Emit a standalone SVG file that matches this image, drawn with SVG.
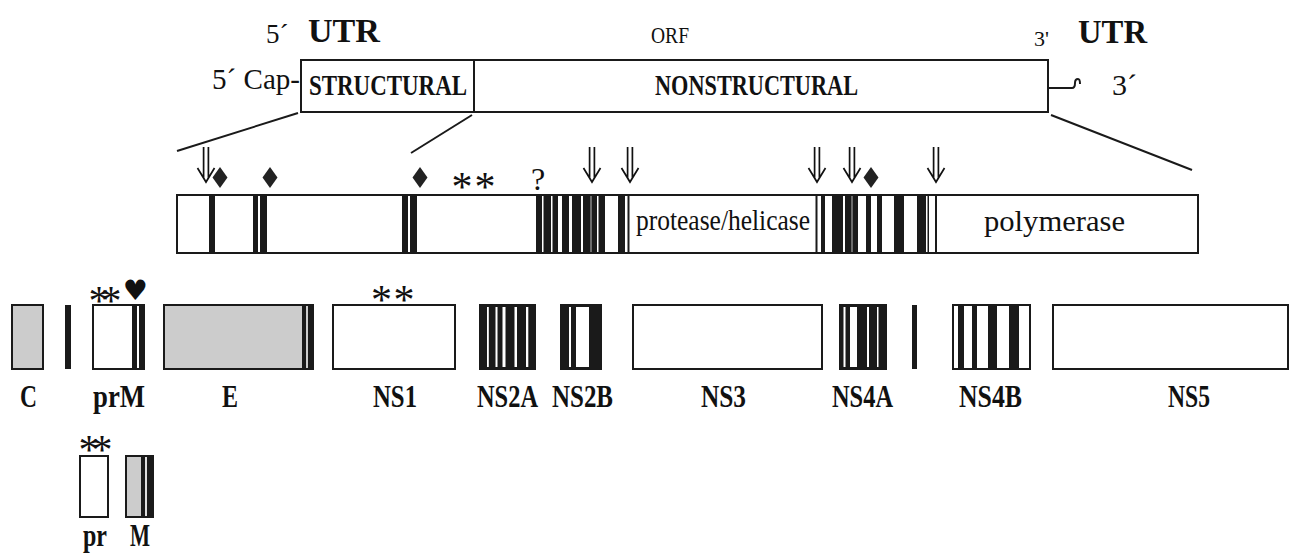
<svg xmlns="http://www.w3.org/2000/svg" width="1299" height="554" viewBox="0 0 1299 554">
<style>
.bx{fill:#fff;stroke:#1a1a1a;stroke-width:2}
.gy{fill:#cccccc;stroke:#1a1a1a;stroke-width:2}
.bk{fill:#1a1a1a;stroke:#1a1a1a;stroke-width:2}
.s{fill:#1a1a1a}
.w{fill:#fff}
.ln{stroke:#1a1a1a;stroke-width:2;fill:none}
.t{font-family:"Liberation Serif","Times New Roman",serif;fill:#111}
.b{font-weight:bold}
.lbl{font-family:"Liberation Serif","Times New Roman",serif;font-weight:bold;font-size:32px;fill:#111}
.ast{font-family:"Liberation Serif","Times New Roman",serif;font-size:42px;fill:#111;text-anchor:middle}
.dm{fill:#222}
</style>
<defs>
<g id="arr"><path d="M-2.4,-35 V-4 M2.4,-35 V-4 M-8.5,-14 L0,0 L8.5,-14" fill="none" stroke="#111" stroke-width="1.7"/></g>
</defs>
<rect width="1299" height="554" fill="#fff"/>

<g id="genome">
<text class="t" x="266" y="43" font-size="27">5´</text>
<text class="t b" x="308" y="42" font-size="33" textLength="72" lengthAdjust="spacingAndGlyphs">UTR</text>
<text class="t" x="651" y="43" font-size="24" textLength="38" lengthAdjust="spacingAndGlyphs">ORF</text>
<text class="t" x="1034" y="46" font-size="22">3'</text>
<text class="t b" x="1078" y="43" font-size="33" textLength="69" lengthAdjust="spacingAndGlyphs">UTR</text>
<text class="t" x="212" y="89" font-size="29" textLength="88" lengthAdjust="spacingAndGlyphs">5´ Cap-</text>
<rect class="bx" x="301" y="60" width="747" height="52"/>
<line class="ln" x1="474" y1="60" x2="474" y2="112"/>
<text class="t b" x="309" y="95" font-size="29" textLength="158" lengthAdjust="spacingAndGlyphs">STRUCTURAL</text>
<text class="t b" x="655" y="95" font-size="29" textLength="203" lengthAdjust="spacingAndGlyphs">NONSTRUCTURAL</text>
<path class="ln" d="M1048 88 H1072 Q1075 88 1075 83 Q1075 79 1078 79 Q1080 79 1080 84"/>
<text class="t" x="1112" y="95" font-size="30">3´</text>
</g>

<g id="connectors">
<line class="ln" x1="298" y1="113" x2="177" y2="151"/>
<line class="ln" x1="472" y1="115" x2="411" y2="153"/>
<line class="ln" x1="1051" y1="115" x2="1192" y2="170"/>
</g>

<g id="polyprotein">
<rect class="bx" x="177" y="195" width="1021" height="58"/>
<g class="s">
<rect x="209" y="196" width="6" height="56"/>
<rect x="253" y="196" width="5" height="56"/>
<rect x="260" y="196" width="7" height="56"/>
<rect x="402" y="196" width="6" height="56"/>
<rect x="410" y="196" width="7" height="56"/>
<rect x="536" y="196" width="6" height="56"/>
<rect x="543.5" y="196" width="7.5" height="56"/>
<rect x="552.5" y="196" width="5.5" height="56"/>
<rect x="562" y="196" width="7" height="56"/>
<rect x="572" y="196" width="9" height="56"/>
<rect x="583" y="196" width="14" height="56"/>
<rect x="598.5" y="196" width="6.5" height="56"/>
<rect x="618" y="196" width="7" height="56"/>
<rect x="627.5" y="196" width="2" height="56"/>
<rect x="815.5" y="196" width="2" height="56"/>
<rect x="821" y="196" width="4" height="56"/>
<rect x="832" y="196" width="11" height="56"/>
<rect x="845" y="196" width="13" height="56"/>
<rect x="866" y="196" width="5" height="56"/>
<rect x="877" y="196" width="5" height="56"/>
<rect x="894" y="196" width="10" height="56"/>
<rect x="917" y="196" width="9" height="56"/>
<rect x="927.5" y="196" width="1.5" height="56"/>
<rect x="935" y="196" width="2" height="56"/>
</g>
<rect x="590.5" y="196" width="1" height="56" fill="#bbb"/>
<rect x="851.5" y="196" width="1" height="56" fill="#bbb"/>
<text class="t" x="636" y="230" font-size="30" textLength="174" lengthAdjust="spacingAndGlyphs">protease/helicase</text>
<text class="t" x="984" y="231" font-size="30" textLength="141" lengthAdjust="spacingAndGlyphs">polymerase</text>
</g>

<g id="markers">
<use href="#arr" x="206" y="182"/>
<use href="#arr" x="592" y="182"/>
<use href="#arr" x="630" y="182"/>
<use href="#arr" x="817" y="182"/>
<use href="#arr" x="852" y="182"/>
<use href="#arr" x="936" y="182"/>
<polygon class="dm" points="220,167 227.5,177.5 220,188 212.5,177.5"/>
<polygon class="dm" points="270,167 277.5,177.5 270,188 262.5,177.5"/>
<polygon class="dm" points="420,167 427.5,177.5 420,188 412.5,177.5"/>
<polygon class="dm" points="871,167 878.5,177.5 871,188 863.5,177.5"/>
<text class="ast" x="462 473 485" y="201">* *</text>
<text class="t" x="531" y="190" font-size="32">?</text>
</g>

<g id="C">
<rect class="gy" x="12" y="305" width="31" height="64"/>
<text class="lbl" x="20" y="407" textLength="17" lengthAdjust="spacingAndGlyphs">C</text>
</g>
<g id="signal">
<rect class="s" x="65" y="305" width="6" height="64"/>
</g>
<g id="prM">
<rect class="bx" x="93" y="305" width="51" height="64"/>
<rect class="s" x="132" y="305" width="5" height="64"/>
<rect class="s" x="139" y="305" width="5" height="64"/>
<text class="ast" x="99 111" y="315">**</text>
<text x="123" y="300" font-family="DejaVu Sans,sans-serif" font-size="28" fill="#111">♥</text>
<text class="lbl" x="93" y="407" textLength="52" lengthAdjust="spacingAndGlyphs">prM</text>
</g>
<g id="E">
<rect class="gy" x="164" y="305" width="149" height="64"/>
<rect class="s" x="302" y="305" width="4" height="64"/>
<rect class="s" x="308" y="305" width="5" height="64"/>
<text class="lbl" x="222" y="407" textLength="16" lengthAdjust="spacingAndGlyphs">E</text>
</g>
<g id="NS1">
<rect class="bx" x="333" y="305" width="122" height="64"/>
<text class="ast" x="381.5 393 404" y="314">* *</text>
<text class="lbl" x="373" y="407" textLength="44" lengthAdjust="spacingAndGlyphs">NS1</text>
</g>
<g id="NS2A">
<rect class="bk" x="480" y="305" width="55" height="64"/>
<rect class="w" x="487" y="307" width="1.8" height="60"/>
<rect class="w" x="495.5" y="307" width="2" height="60"/>
<rect class="w" x="502.5" y="307" width="3" height="60"/>
<rect class="w" x="514.5" y="307" width="2.5" height="60"/>
<rect class="w" x="526" y="307" width="2.3" height="60"/>
<text class="lbl" x="477" y="407" textLength="61" lengthAdjust="spacingAndGlyphs">NS2A</text>
</g>
<g id="NS2B">
<rect class="bk" x="561" y="305" width="40" height="64"/>
<rect class="w" x="569" y="307" width="2" height="60"/>
<rect class="w" x="576" y="307" width="13" height="60"/>
<text class="lbl" x="552" y="407" textLength="61" lengthAdjust="spacingAndGlyphs">NS2B</text>
</g>
<g id="NS3">
<rect class="bx" x="633" y="305" width="189" height="64"/>
<text class="lbl" x="701" y="407" textLength="45" lengthAdjust="spacingAndGlyphs">NS3</text>
</g>
<g id="NS4A">
<rect class="bk" x="840" y="305" width="46" height="64"/>
<rect class="w" x="843.5" y="307" width="2" height="60"/>
<rect class="w" x="850" y="307" width="7" height="60"/>
<rect class="w" x="867" y="307" width="2" height="60"/>
<rect class="w" x="877" y="307" width="1.5" height="60"/>
<text class="lbl" x="832" y="407" textLength="61" lengthAdjust="spacingAndGlyphs">NS4A</text>
</g>
<g id="signal2">
<rect class="s" x="912" y="305" width="5" height="64"/>
</g>
<g id="NS4B">
<rect class="bx" x="953" y="305" width="77" height="64"/>
<rect class="s" x="958" y="305" width="6" height="64"/>
<rect class="s" x="972" y="305" width="5" height="64"/>
<rect class="s" x="988" y="305" width="9" height="64"/>
<rect class="s" x="1009" y="305" width="10" height="64"/>
<text class="lbl" x="959" y="407" textLength="63" lengthAdjust="spacingAndGlyphs">NS4B</text>
</g>
<g id="NS5">
<rect class="bx" x="1053" y="305" width="235" height="64"/>
<text class="lbl" x="1168" y="407" textLength="42" lengthAdjust="spacingAndGlyphs">NS5</text>
</g>
<g id="pr">
<rect class="bx" x="80" y="456" width="28" height="61"/>
<text class="ast" x="89 102" y="464">**</text>
<text class="lbl" x="83" y="546" textLength="24" lengthAdjust="spacingAndGlyphs">pr</text>
</g>
<g id="M">
<rect class="gy" x="126" y="456" width="27" height="61"/>
<rect class="s" x="141" y="456" width="4" height="61"/>
<rect x="145" y="457" width="2" height="59" fill="#ddd"/>
<rect class="s" x="147" y="456" width="6" height="61"/>
<text class="lbl" x="130" y="546" textLength="20" lengthAdjust="spacingAndGlyphs">M</text>
</g>
</svg>
